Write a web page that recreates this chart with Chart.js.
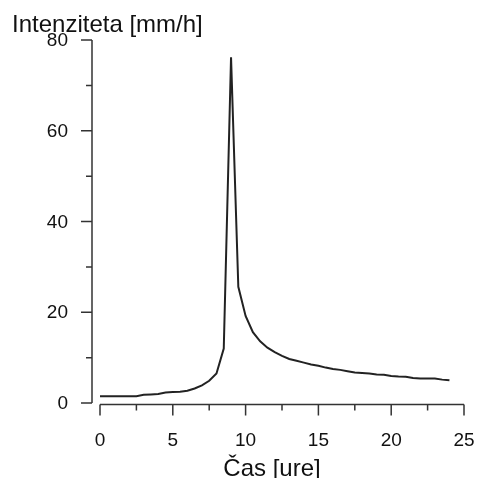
<!DOCTYPE html>
<html>
<head>
<meta charset="UTF-8">
<script src="https://cdn.jsdelivr.net/npm/chart.js@4.4.1/dist/chart.umd.min.js"></script>
<style>
    body { margin: 0; background: #fff; }
</style>
</head>
<body>
<canvas id="rainChart" width="477" height="478"></canvas>
<script>
    // ure (every half hour) and intensity in mm/h
    const hours = [0, 0.5, 1, 1.5, 2, 2.5, 3, 3.5, 4, 4.5, 5, 5.5, 6, 6.5, 7, 7.5, 8, 8.5, 9, 9.5,
        10, 10.5, 11, 11.5, 12, 12.5, 13, 13.5, 14, 14.5, 15, 15.5, 16, 16.5, 17, 17.5, 18, 18.5, 19, 19.5,
        20, 20.5, 21, 21.5, 22, 22.5, 23, 23.5, 24];
    const intensity = [1.5, 1.5, 1.5, 1.5, 1.5, 1.5, 1.8, 1.9, 2.0, 2.3, 2.4, 2.5, 2.7, 3.2, 3.9, 4.9, 6.5, 12.0, 76.2, 25.6,
        19.2, 15.6, 13.6, 12.2, 11.2, 10.4, 9.7, 9.3, 8.9, 8.5, 8.2, 7.8, 7.5, 7.3, 7.0, 6.7, 6.6, 6.5, 6.3, 6.2,
        5.95, 5.85, 5.8, 5.5, 5.4, 5.4, 5.4, 5.15, 5.0];

    const xTicks = [0, 5, 10, 15, 20, 25];
    const xMinorTicks = [2.5, 7.5, 12.5, 17.5, 22.5];
    const yTicks = [0, 20, 40, 60, 80];
    const yMinorTicks = [10, 30, 50, 70];
    const xTitle = 'Čas [ure]';
    const yTitle = 'Intenziteta [mm/h]';

    const FONT = '"Liberation Sans", Arial, Helvetica, sans-serif';

    // R-like axes, detached from the plot box
    const axesPlugin = {
        id: 'axesPlugin',
        afterDraw(chart) {
            const ctx = chart.ctx;
            const xs = chart.scales.x;
            const ys = chart.scales.y;
            const area = chart.chartArea;
            const axisX = area.left - 8;      // y axis line
            const axisY = area.bottom + 1.5;  // x axis line

            ctx.save();
            ctx.strokeStyle = '#333';
            ctx.lineWidth = 1.5;

            // y axis
            ctx.beginPath();
            ctx.moveTo(axisX, ys.getPixelForValue(yTicks[yTicks.length - 1]));
            ctx.lineTo(axisX, ys.getPixelForValue(yTicks[0]));
            yTicks.forEach(function(v) {
                const p = ys.getPixelForValue(v);
                ctx.moveTo(axisX, p);
                ctx.lineTo(axisX - 11, p);
            });
            yMinorTicks.forEach(function(v) {
                const p = ys.getPixelForValue(v);
                ctx.moveTo(axisX, p);
                ctx.lineTo(axisX - 6, p);
            });
            ctx.stroke();

            // x axis
            ctx.beginPath();
            ctx.moveTo(xs.getPixelForValue(xTicks[0]), axisY);
            ctx.lineTo(xs.getPixelForValue(xTicks[xTicks.length - 1]), axisY);
            xTicks.forEach(function(v) {
                const p = xs.getPixelForValue(v);
                ctx.moveTo(p, axisY);
                ctx.lineTo(p, axisY + 11);
            });
            xMinorTicks.forEach(function(v) {
                const p = xs.getPixelForValue(v);
                ctx.moveTo(p, axisY);
                ctx.lineTo(p, axisY + 6);
            });
            ctx.stroke();

            // tick labels
            ctx.fillStyle = '#111';
            ctx.font = '19px ' + FONT;
            ctx.textAlign = 'right';
            ctx.textBaseline = 'middle';
            yTicks.forEach(function(v) {
                ctx.fillText(String(v), axisX - 24, ys.getPixelForValue(v) + 1);
            });
            ctx.textAlign = 'center';
            ctx.textBaseline = 'alphabetic';
            xTicks.forEach(function(v) {
                ctx.fillText(String(v), xs.getPixelForValue(v), 446);
            });

            // titles
            ctx.font = '24px ' + FONT;
            ctx.textAlign = 'left';
            ctx.fillText(yTitle, 12, 32);
            ctx.textAlign = 'center';
            ctx.fillText(xTitle, 272, 476);
            ctx.restore();
        }
    };

    const points = hours.map(function(h, i) {
        return {x: h, y: intensity[i]};
    });

    new Chart(document.getElementById('rainChart'), {
        type: 'line',
        data: {
            datasets: [{
                data: points,
                borderColor: '#222',
                borderWidth: 2,
                pointRadius: 0,
                tension: 0,
                fill: false
            }]
        },
        options: {
            responsive: false,
            animation: false,
            devicePixelRatio: 1,
            layout: {
                padding: {left: 100, right: 13, top: 40, bottom: 75}
            },
            plugins: {
                legend: {display: false},
                tooltip: {enabled: false},
                title: {display: false}
            },
            scales: {
                x: {type: 'linear', min: 0, max: 25, display: false},
                y: {type: 'linear', min: 0, max: 80, display: false}
            }
        },
        plugins: [axesPlugin]
    });
</script>
</body>
</html>
